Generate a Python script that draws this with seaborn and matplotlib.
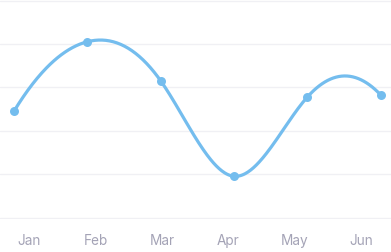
import numpy as np
import pandas as pd
import matplotlib
matplotlib.use("Agg")
import matplotlib.pyplot as plt
import seaborn as sns

months = ["Jan", "Feb", "Mar", "Apr", "May", "Jun"]
values = [49, 81, 63, 19, 55.5, 56.5]
y_ticks = [0, 20, 40, 60, 80, 100]

LINE = "#74BDEE"
TEXT = "#A4A3B6"
GRID = "#F0F0F4"

sns.set_theme(style="white")
plt.rcParams["font.family"] = ["Inter", "DejaVu Sans"]

df = pd.DataFrame({"month": months, "value": values, "idx": np.arange(len(months))})

# cubic spline (parabolic run-out ends) through the data points for the smooth line
x = df["idx"].to_numpy(dtype=float)
y = df["value"].to_numpy(dtype=float)
n = len(x)
A = np.zeros((n, n))
b = np.zeros(n)
A[0, 0], A[0, 1] = 1, -1
A[-1, -1], A[-1, -2] = 1, -1
for i in range(1, n - 1):
    A[i, i - 1] = 1
    A[i, i] = 4
    A[i, i + 1] = 1
    b[i] = 6 * (y[i + 1] - 2 * y[i] + y[i - 1])
M = np.linalg.solve(A, b)
xs, ys = [], []
for i in range(n - 1):
    t = np.linspace(0, 1, 80)
    u = 1 - t
    seg = u * y[i] + t * y[i + 1] + ((u ** 3 - u) * M[i] + (t ** 3 - t) * M[i + 1]) / 6
    xs.extend(x[i] + t)
    ys.extend(seg)
curve = pd.DataFrame({"x": xs, "y": ys})

W, H = 391, 253
fig = plt.figure(figsize=(W / 100, H / 100), dpi=100)
ax_h = 220
ax = fig.add_axes([0, (H - ax_h) / H, 1, ax_h / H])

px = 20 / 43.4
ax.set_ylim(-1.5 * px, 100 + 1.5 * px)
step = 73.33
ax.set_xlim(-14 / step, (W - 14) / step)

for v in y_ticks:
    ax.axhline(v, color=GRID, lw=1, zorder=0)

sns.lineplot(data=curve, x="x", y="y", ax=ax, color=LINE, lw=2.3, sort=False, zorder=2)
sns.scatterplot(data=df, x="idx", y="value", ax=ax, color=LINE, s=42, edgecolor=LINE,
                linewidth=0, zorder=3)

label_pos = [(29 + 66.5 * i - 14) / step for i in range(n)]
ax.set_xticks(label_pos)
ax.set_xticklabels(months, color=TEXT, fontsize=9.8)
ax.set_yticks([])
ax.tick_params(axis="x", length=0, pad=10)
ax.set_xlabel("")
ax.set_ylabel("")
for s in ax.spines.values():
    s.set_visible(False)

fig.savefig("out.png", dpi=100)
